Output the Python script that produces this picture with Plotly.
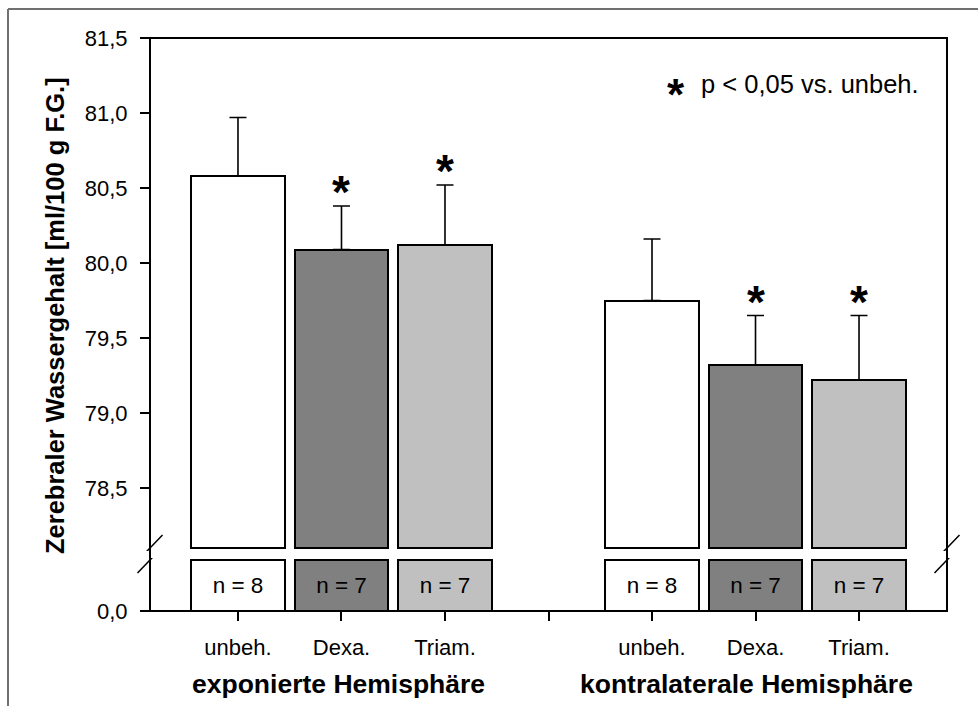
import plotly.graph_objects as go

# ---------------- data ----------------
categories = ["unbeh.", "Dexa.", "Triam."]
groups = ["exponierte Hemisphäre", "kontralaterale Hemisphäre"]
means_exp = [80.58, 80.09, 80.12]
sem_exp = [0.39, 0.29, 0.40]
means_con = [79.75, 79.32, 79.22]
sem_con = [0.41, 0.33, 0.43]
n_exp = [8, 7, 7]
n_con = [8, 7, 7]
sig_exp = [False, True, True]
sig_con = [False, True, True]
upper_ticks = [78.5, 79.0, 79.5, 80.0, 80.5, 81.0, 81.5]
lower_ticks = [0.0]
legend_text = "p < 0,05 vs. unbeh."
y_title = "Zerebraler Wassergehalt [ml/100 g F.G.]"

# ---------------- style / layout ----------------
colors = ["#ffffff", "#808080", "#c0c0c0"]
FONT = "Arial, 'Liberation Sans', sans-serif"
W, H = 978, 706
L, R, T, B = 150, 31, 38, 95
PH = H - T - B          # plot height in px
PW = W - L - R
PX_PER_UNIT = 150.0
Y_TOP = 81.5
Y_BREAK = 78.1           # bars start at the break
Y_LOW = 78.08
STUB = 1.0               # lower-panel stub height
LOW_MAX = 1.04
STUB_PX = 51.0

upper_bottom = 1 - (Y_TOP - Y_LOW) * PX_PER_UNIT / PH
lower_top = (STUB_PX * LOW_MAX / STUB) / PH


def px_x(px):
    return (px - L) / PW


def px_y(py):
    return (H - B - py) / PH


ncat = len(categories)
xs, means, sems, ns, sigs, cols = [], [], [], [], [], []
for g, (m, s, n, sg) in enumerate([(means_exp, sem_exp, n_exp, sig_exp),
                                   (means_con, sem_con, n_con, sig_con)]):
    for i in range(ncat):
        xs.append(g * (ncat + 1) + i)
        means.append(m[i])
        sems.append(s[i])
        ns.append(n[i])
        sigs.append(sg[i])
        cols.append(colors[i])

fig = go.Figure()

# upper panel bars (start at the axis break)
fig.add_trace(go.Bar(
    x=xs, y=[m - Y_BREAK for m in means], base=Y_BREAK,
    width=0.9, marker=dict(color=cols, line=dict(color="black", width=2)),
    error_y=dict(type="data", array=sems, arrayminus=[0] * len(sems), symmetric=False,
                 color="black", thickness=1.6, width=8.5),
    xaxis="x", yaxis="y", showlegend=False, hoverinfo="skip",
))

# lower panel stubs with n labels
fig.add_trace(go.Bar(
    x=xs, y=[STUB] * len(xs), width=0.9,
    marker=dict(color=cols, line=dict(color="black", width=2)),
    text=[f"n = {n}" for n in ns], textposition="inside", insidetextanchor="middle",
    textangle=0, textfont=dict(family=FONT, size=22.5, color="black"),
    xaxis="x", yaxis="y2", showlegend=False, hoverinfo="skip",
))

tickvals_x = list(range(2 * ncat + 1))
ticktext_x = categories + [""] + categories


def fmt(v):
    return f"{v:.1f}".replace(".", ",")


fig.update_layout(
    width=W, height=H,
    margin=dict(l=L, r=R, t=T, b=B),
    paper_bgcolor="white", plot_bgcolor="white",
    font=dict(family=FONT, size=22, color="black"),
    bargap=0,
    xaxis=dict(range=[-0.85, 6.85], tickvals=tickvals_x, ticktext=ticktext_x,
               ticks="outside", ticklen=9, tickwidth=1.5, tickcolor="black",
               showline=False, showgrid=False, zeroline=False, anchor="y2",
               tickfont=dict(size=22), ticklabelstandoff=8),
    yaxis=dict(domain=[upper_bottom, 1], range=[Y_LOW, Y_TOP],
               tickvals=upper_ticks, ticktext=[fmt(v) for v in upper_ticks],
               ticks="outside", ticklen=9, tickwidth=1.5, tickcolor="black",
               showline=False, showgrid=False, zeroline=False, anchor="x",
               tickfont=dict(size=22), ticklabelstandoff=8),
    yaxis2=dict(domain=[0, lower_top], range=[0, LOW_MAX],
                tickvals=lower_ticks, ticktext=[fmt(v) for v in lower_ticks],
                ticks="outside", ticklen=9, tickwidth=1.5, tickcolor="black",
                showline=False, showgrid=False, zeroline=False, anchor="x",
                tickfont=dict(size=22), ticklabelstandoff=8),
)

shapes = []
# plot frame
shapes.append(dict(type="rect", xref="paper", yref="paper", x0=0, x1=1, y0=0, y1=1,
                   line=dict(color="black", width=2), layer="above"))
# outer gray frame (top + left)
shapes.append(dict(type="line", xref="paper", yref="paper", x0=px_x(8), x1=px_x(990),
                   y0=px_y(9), y1=px_y(9), line=dict(color="#707070", width=2)))
shapes.append(dict(type="line", xref="paper", yref="paper", x0=px_x(8), x1=px_x(8),
                   y0=px_y(9), y1=px_y(720), line=dict(color="#707070", width=2)))
# axis break marks
for xa in (0, 1):
    for yref, yanc in (("y", Y_BREAK), ("y2", STUB)):
        shapes.append(dict(type="line", xref="paper", xsizemode="pixel", xanchor=xa,
                           x0=-12.5, x1=12.5, yref=yref, ysizemode="pixel", yanchor=yanc,
                           y0=-13, y1=13, line=dict(color="black", width=1.5), layer="above"))
fig.update_layout(shapes=shapes)

ann = []
# significance asterisks
for x, m, s, sg in zip(xs, means, sems, sigs):
    if sg:
        ann.append(dict(x=x, y=m + s, xref="x", yref="y", text="<b>*</b>", showarrow=False,
                        yanchor="middle", yshift=14, font=dict(size=46, family=FONT)))
# group labels
group_shift = [-3, -9]
for g, name in enumerate(groups):
    ann.append(dict(x=g * (ncat + 1) + (ncat - 1) / 2, y=px_y(684), xref="x", yref="paper",
                    text=f"<b>{name}</b>", showarrow=False, yanchor="middle",
                    xshift=group_shift[g], font=dict(size=26.5, family=FONT)))
# y title
ann.append(dict(x=px_x(55), y=px_y(316), xref="paper", yref="paper", text=f"<b>{y_title}</b>",
                textangle=-90, showarrow=False, xanchor="center", yanchor="middle",
                font=dict(size=25.5, family=FONT)))
# legend
ann.append(dict(x=px_x(676), y=px_y(87), xref="paper", yref="paper", text="<b>*</b>",
                showarrow=False, xanchor="center", yanchor="middle", yshift=-8,
                font=dict(size=44, family=FONT)))
ann.append(dict(x=px_x(699), y=px_y(84), xref="paper", yref="paper", text=legend_text,
                showarrow=False, xanchor="left", yanchor="middle",
                font=dict(size=25.5, family=FONT)))
fig.update_layout(annotations=ann)

fig.write_html("out.html")
